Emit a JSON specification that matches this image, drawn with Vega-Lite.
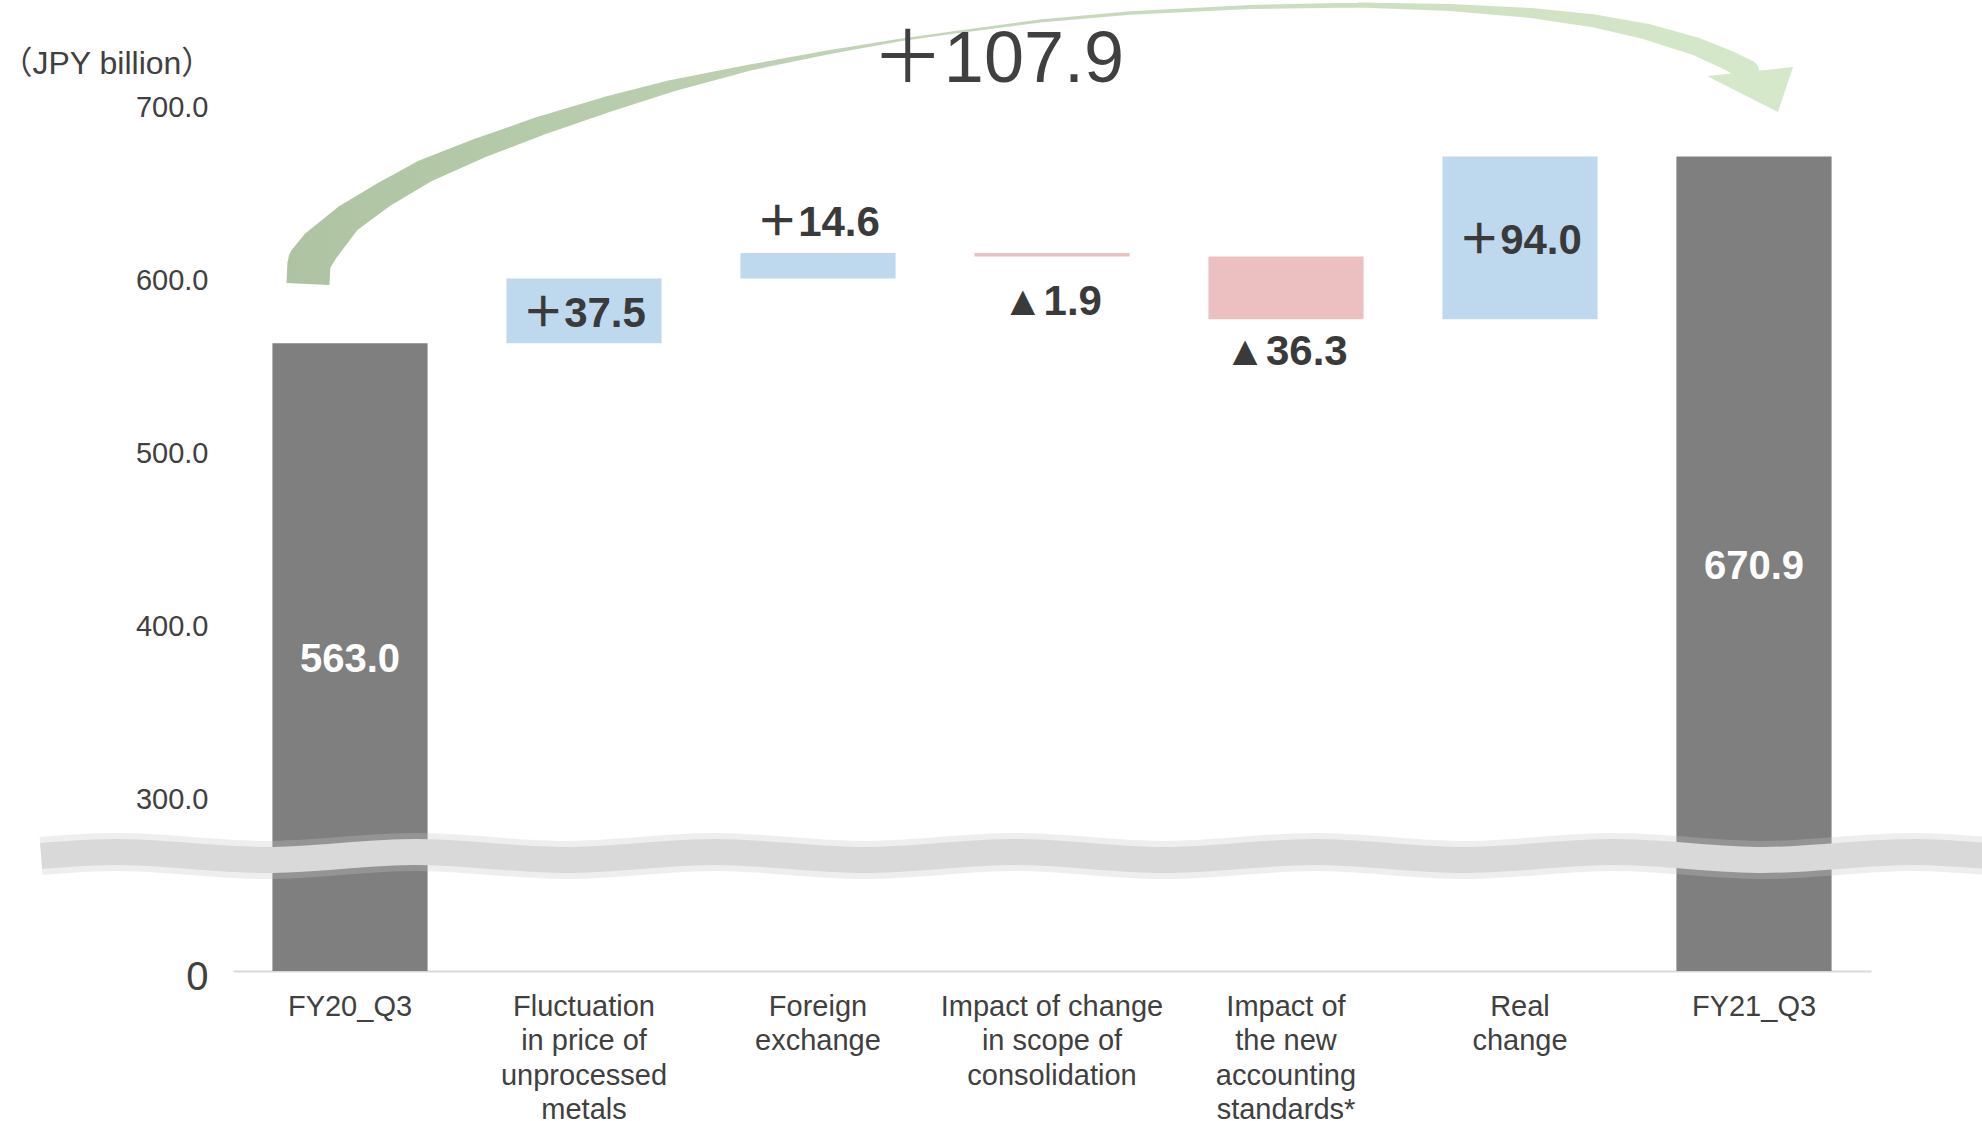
{
  "$schema": "https://vega.github.io/schema/vega-lite/v6.json",
  "width": 1638,
  "height": 971,
  "autosize": {"type": "none"},
  "padding": {"left": 233, "top": 0, "right": 111, "bottom": 150},
  "background": "white",
  "config": {
    "view": {"stroke": null},
    "font": "Liberation Sans, Noto Sans CJK JP, sans-serif"
  },
  "datasets": {
    "bars": [
      {"category": "FY20_Q3", "start": 0, "end": 563.0, "kind": "total", "label": "563.0"},
      {"category": "Fluctuation in price of unprocessed metals", "start": 563.0, "end": 600.5, "kind": "up", "label": "＋37.5"},
      {"category": "Foreign exchange", "start": 600.5, "end": 615.1, "kind": "up", "label": "＋14.6"},
      {"category": "Impact of change in scope of consolidation", "start": 615.1, "end": 613.2, "kind": "down", "label": "▲1.9"},
      {"category": "Impact of the new accounting standards*", "start": 613.2, "end": 576.9, "kind": "down", "label": "▲36.3"},
      {"category": "Real change", "start": 576.9, "end": 670.9, "kind": "up", "label": "＋94.0"},
      {"category": "FY21_Q3", "start": 0, "end": 670.9, "kind": "total", "label": "670.9"}
    ],
    "arrowbase": [
      {"i": 1, "px": 0.3205, "v": 597.26},
      {"i": 2, "px": 0.3248, "v": 609.96}
    ],
    "arrow": [
      {"i": 1, "px": 0.3248, "v": 609.96, "w": 42},
      {"i": 2, "px": 0.3675, "v": 618.04, "w": 40},
      {"i": 3, "px": 0.4872, "v": 634.78, "w": 30},
      {"i": 4, "px": 0.6410, "v": 648.63, "w": 26},
      {"i": 5, "px": 0.8205, "v": 662.48, "w": 24},
      {"i": 6, "px": 1.0556, "v": 675.76, "w": 21},
      {"i": 7, "px": 1.3120, "v": 688.46, "w": 19},
      {"i": 8, "px": 1.5897, "v": 700.58, "w": 16},
      {"i": 9, "px": 1.8718, "v": 711.54, "w": 12},
      {"i": 10, "px": 2.2094, "v": 722.22, "w": 6},
      {"i": 11, "px": 2.5513, "v": 731.17, "w": 4},
      {"i": 12, "px": 2.8504, "v": 738.10, "w": 2.5},
      {"i": 13, "px": 3.0940, "v": 742.71, "w": 2.5},
      {"i": 14, "px": 3.4487, "v": 749.06, "w": 3},
      {"i": 15, "px": 3.8333, "v": 753.68, "w": 3.5},
      {"i": 16, "px": 4.3462, "v": 757.14, "w": 4},
      {"i": 17, "px": 4.8120, "v": 758.30, "w": 5},
      {"i": 18, "px": 5.2009, "v": 756.85, "w": 7},
      {"i": 19, "px": 5.5470, "v": 753.68, "w": 10},
      {"i": 20, "px": 5.8205, "v": 749.06, "w": 13},
      {"i": 21, "px": 6.0385, "v": 743.00, "w": 16},
      {"i": 22, "px": 6.2479, "v": 734.63, "w": 18},
      {"i": 23, "px": 6.3974, "v": 725.97, "w": 20},
      {"i": 24, "px": 6.4744, "v": 720.20, "w": 22}
    ],
    "head": [{"px": 6.5214, "v": 712.12}],
    "total": [{"px": 3.269, "v": 726.8, "label": "＋107.9"}],
    "wave": [
      {"i": 1, "px": -0.82, "v": 267.1},
      {"i": 2, "px": -0.50, "v": 269.4},
      {"i": 3, "px": 0.14, "v": 264.8},
      {"i": 4, "px": 0.78, "v": 269.4},
      {"i": 5, "px": 1.42, "v": 264.8},
      {"i": 6, "px": 2.06, "v": 269.4},
      {"i": 7, "px": 2.70, "v": 264.8},
      {"i": 8, "px": 3.34, "v": 269.4},
      {"i": 9, "px": 3.98, "v": 264.8},
      {"i": 10, "px": 4.62, "v": 269.4},
      {"i": 11, "px": 5.26, "v": 264.8},
      {"i": 12, "px": 5.90, "v": 269.4},
      {"i": 13, "px": 6.54, "v": 264.8},
      {"i": 14, "px": 7.18, "v": 269.4},
      {"i": 15, "px": 7.50, "v": 267.1}
    ]
  },
  "resolve": {"scale": {"x": "independent"}},
  "layer": [
    {
      "data": {"name": "bars"},
      "encoding": {
        "x": {
          "field": "category",
          "type": "nominal",
          "sort": null,
          "scale": {
            "domain": ["FY20_Q3", "Fluctuation in price of unprocessed metals", "Foreign exchange", "Impact of change in scope of consolidation", "Impact of the new accounting standards*", "Real change", "FY21_Q3"],
            "paddingInner": 0.337,
            "paddingOuter": 0.1685
          },
          "axis": {
            "title": null,
            "domain": true,
            "domainColor": "#d9d9d9",
            "domainWidth": 2,
            "ticks": false,
            "grid": false,
            "labelAngle": 0,
            "labelBaseline": "top",
            "labelPadding": 21,
            "labelFontSize": 29,
            "labelLineHeight": 34.5,
            "labelColor": "#404040",
            "labelLimit": 400,
            "labelExpr": "datum.label == 'Fluctuation in price of unprocessed metals' ? ['Fluctuation', 'in price of', 'unprocessed', 'metals'] : datum.label == 'Foreign exchange' ? ['Foreign', 'exchange'] : datum.label == 'Impact of change in scope of consolidation' ? ['Impact of change', 'in scope of', 'consolidation'] : datum.label == 'Impact of the new accounting standards*' ? ['Impact of', 'the new', 'accounting', 'standards*'] : datum.label == 'Real change' ? ['Real', 'change'] : datum.label"
          }
        }
      },
      "layer": [
        {
          "mark": {"type": "bar"},
          "encoding": {
            "y": {
              "field": "start",
              "type": "quantitative",
              "scale": {"domain": [200.7, 761.2], "clamp": true, "nice": false, "zero": false},
              "axis": {
                "values": [200.7, 300, 400, 500, 600, 700],
                "labelExpr": "datum.value < 250 ? '0' : format(datum.value, '.1f')",
                "domain": false,
                "ticks": false,
                "grid": false,
                "labelOverlap": false,
                "labelPadding": 25,
                "labelColor": "#404040",
                "labelFontSize": {"condition": {"test": "datum.value < 250", "value": 40}, "value": 29},
                "labelOffset": {"condition": {"test": "datum.value < 250", "value": 6}, "value": 1},
                "title": "（JPY billion）",
                "titleAngle": 0,
                "titleAlign": "left",
                "titleBaseline": "middle",
                "titleX": -233,
                "titleY": 63,
                "titleFontSize": 32,
                "titleFontWeight": "normal",
                "titleColor": "#404040"
              }
            },
            "y2": {"field": "end"},
            "color": {
              "field": "kind",
              "type": "nominal",
              "scale": {"domain": ["total", "up", "down"], "range": ["#7f7f7f", "#bed8ee", "#ecbfc0"]},
              "legend": null
            }
          }
        },
        {
          "transform": [
            {"filter": "datum.kind == 'total'"},
            {"calculate": "(max(datum.start, 200.7) + datum.end) / 2", "as": "mid"}
          ],
          "mark": {"type": "text", "fontSize": 40, "fontWeight": "bold", "color": "white", "baseline": "middle", "align": "center", "dy": 3},
          "encoding": {
            "y": {"field": "mid", "type": "quantitative", "scale": {"domain": [200.7, 761.2], "clamp": true, "nice": false, "zero": false}},
            "text": {"field": "label"}
          }
        },
        {
          "transform": [
            {"filter": "datum.category == 'Fluctuation in price of unprocessed metals' || datum.category == 'Real change'"},
            {"calculate": "(datum.start + datum.end) / 2", "as": "mid"}
          ],
          "mark": {"type": "text", "fontSize": 42, "fontWeight": "bold", "color": "#3a3a3a", "baseline": "middle", "align": "center", "dy": 3},
          "encoding": {
            "y": {"field": "mid", "type": "quantitative", "scale": {"domain": [200.7, 761.2], "clamp": true, "nice": false, "zero": false}},
            "text": {"field": "label"}
          }
        },
        {
          "transform": [{"filter": "datum.category == 'Foreign exchange'"}],
          "mark": {"type": "text", "fontSize": 42, "fontWeight": "bold", "color": "#3a3a3a", "baseline": "middle", "align": "center", "dy": -30},
          "encoding": {
            "y": {"field": "end", "type": "quantitative", "scale": {"domain": [200.7, 761.2], "clamp": true, "nice": false, "zero": false}},
            "text": {"field": "label"}
          }
        },
        {
          "transform": [{"filter": "datum.category == 'Impact of change in scope of consolidation'"}],
          "mark": {"type": "text", "fontSize": 42, "fontWeight": "bold", "color": "#3a3a3a", "baseline": "middle", "align": "center", "dy": 46},
          "encoding": {
            "y": {"field": "end", "type": "quantitative", "scale": {"domain": [200.7, 761.2], "clamp": true, "nice": false, "zero": false}},
            "text": {"field": "label"}
          }
        },
        {
          "transform": [{"filter": "datum.category == 'Impact of the new accounting standards*'"}],
          "mark": {"type": "text", "fontSize": 42, "fontWeight": "bold", "color": "#3a3a3a", "baseline": "middle", "align": "center", "dy": 33},
          "encoding": {
            "y": {"field": "end", "type": "quantitative", "scale": {"domain": [200.7, 761.2], "clamp": true, "nice": false, "zero": false}},
            "text": {"field": "label"}
          }
        }
      ]
    },
    {
      "data": {"name": "wave"},
      "mark": {"type": "line", "interpolate": "monotone", "strokeWidth": 38, "color": "#c8c8c8", "opacity": 0.3, "strokeCap": "butt"},
      "encoding": {
        "x": {"field": "px", "type": "quantitative", "scale": {"domain": [0, 7], "nice": false, "zero": false}, "axis": null},
        "y": {"field": "v", "type": "quantitative", "scale": {"domain": [200.7, 761.2], "clamp": true, "nice": false, "zero": false}},
        "order": {"field": "i"}
      }
    },
    {
      "data": {"name": "wave"},
      "mark": {"type": "line", "interpolate": "monotone", "strokeWidth": 26, "color": "#d9d9d9", "strokeCap": "butt"},
      "encoding": {
        "x": {"field": "px", "type": "quantitative", "scale": {"domain": [0, 7], "nice": false, "zero": false}, "axis": null},
        "y": {"field": "v", "type": "quantitative", "scale": {"domain": [200.7, 761.2], "clamp": true, "nice": false, "zero": false}},
        "order": {"field": "i"}
      }
    },
    {
      "data": {"name": "arrowbase"},
      "mark": {"type": "line", "strokeWidth": 43, "color": "#adc3a1", "strokeCap": "butt"},
      "encoding": {
        "x": {"field": "px", "type": "quantitative", "scale": {"domain": [0, 7], "nice": false, "zero": false}, "axis": null},
        "y": {"field": "v", "type": "quantitative", "scale": {"domain": [200.7, 761.2], "clamp": true, "nice": false, "zero": false}},
        "order": {"field": "i"}
      }
    },
    {
      "data": {"name": "arrow"},
      "mark": {
        "type": "trail",
        "color": {"gradient": "linear", "x1": 0, "y1": 0, "x2": 1, "y2": 0, "stops": [{"offset": 0, "color": "#adc3a1"}, {"offset": 0.45, "color": "#c3d7b8"}, {"offset": 1, "color": "#d5e8c9"}]},
        "fill": {"gradient": "linear", "x1": 0, "y1": 0, "x2": 1, "y2": 0, "stops": [{"offset": 0, "color": "#adc3a1"}, {"offset": 0.45, "color": "#c3d7b8"}, {"offset": 1, "color": "#d5e8c9"}]}
      },
      "encoding": {
        "x": {"field": "px", "type": "quantitative", "scale": {"domain": [0, 7], "nice": false, "zero": false}, "axis": null},
        "y": {"field": "v", "type": "quantitative", "scale": {"domain": [200.7, 761.2], "clamp": true, "nice": false, "zero": false}},
        "size": {"field": "w", "type": "quantitative", "scale": null, "legend": null},
        "order": {"field": "i"}
      }
    },
    {
      "data": {"name": "head"},
      "mark": {"type": "point", "shape": "M -1 -0.173 L 0.654 -0.346 L 0.365 0.519 Z", "size": 10816, "filled": true, "opacity": 1, "color": "#d5e8c9", "strokeWidth": 0},
      "encoding": {
        "x": {"field": "px", "type": "quantitative", "scale": {"domain": [0, 7], "nice": false, "zero": false}, "axis": null},
        "y": {"field": "v", "type": "quantitative", "scale": {"domain": [200.7, 761.2], "clamp": true, "nice": false, "zero": false}}
      }
    },
    {
      "data": {"name": "total"},
      "mark": {"type": "text", "fontSize": 72, "color": "#404040", "baseline": "middle", "align": "center"},
      "encoding": {
        "x": {"field": "px", "type": "quantitative", "scale": {"domain": [0, 7], "nice": false, "zero": false}, "axis": null},
        "y": {"field": "v", "type": "quantitative", "scale": {"domain": [200.7, 761.2], "clamp": true, "nice": false, "zero": false}},
        "text": {"field": "label"}
      }
    }
  ]
}
